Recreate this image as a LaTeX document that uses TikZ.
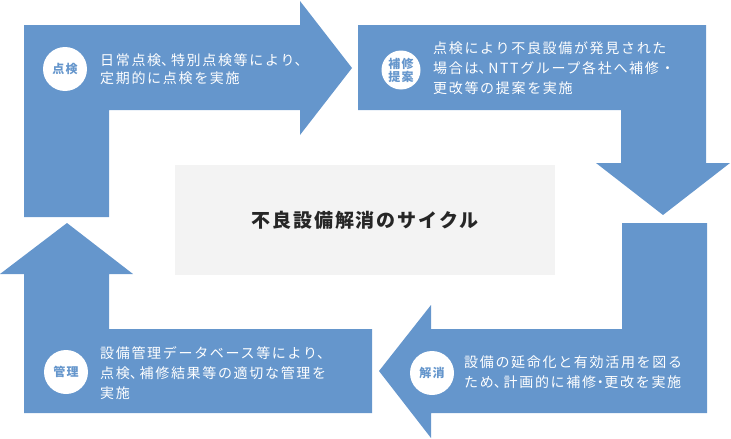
\documentclass[tikz,border=0pt]{standalone}
\usepackage{fontspec}
\usepackage{xcolor}
\newfontfamily\jp[LetterSpace=12]{Noto Sans CJK JP}
\newfontfamily\jptitle[LetterSpace=10]{Noto Sans CJK JP}
\definecolor{cycleblue}{RGB}{101,150,204}
\definecolor{boxgray}{RGB}{243,243,243}
\newcommand\tenmark{\makebox[0.7em][l]{、}}
\newcommand\dotmark{\makebox[0.6em][c]{・}}

\begin{document}
\begin{tikzpicture}[x=1pt, y=-1pt,
    band/.style = {fill=cycleblue, draw=none},
    badge/.style = {shape=circle, fill=white, minimum size=44pt,
      inner sep=0pt, align=center, text=cycleblue,
      font=\jp\bfseries\fontsize{12}{12}\selectfont},
    caption/.style = {anchor=west, align=left, text=white, inner sep=0pt,
      font=\jp\fontsize{14}{20}\selectfont}]
  \useasboundingbox (0,0) rectangle (731,439);

  % the four arrows of the cycle
  \fill[band] (24,217) -- (24,25) -- (300,25) -- (300,1) -- (352,68)
    -- (300,135) -- (300,110) -- (109,110) -- (109,217) -- cycle;
  \fill[band] (358,25) -- (706,25) -- (706,163) -- (730,163) -- (663,215)
    -- (596,163) -- (621,163) -- (621,110) -- (358,110) -- cycle;
  \fill[band] (707,223) -- (707,413) -- (431,413) -- (431,438) -- (379,371)
    -- (431,305) -- (431,329) -- (622,329) -- (622,223) -- cycle;
  \fill[band] (372,329) -- (372,413) -- (24,413) -- (24,274) -- (0,274)
    -- (67,223) -- (133,274) -- (109,274) -- (109,329) -- cycle;

  \node[fill=boxgray, minimum width=380pt, minimum height=110pt,
    font=\jptitle\bfseries\fontsize{19}{19}\selectfont, text={black!85}]
    (cycle) at (365,220) {不良設備解消のサイクル};

  \node[badge] (check) at (65,69) {点検};
  \node[caption, font=\jp\fontsize{14}{18}\selectfont] (checkTxt) at (100,69)
    {日常点検\tenmark 特別点検等により\tenmark\\定期的に点検を実施};

  \node[badge, minimum size=39pt, font=\jp\bfseries\fontsize{12}{13}\selectfont]
    (propose) at (401,70) {補修\\提案};
  \node[caption] (proposeTxt) at (433,68)
    {点検により不良設備が発見された\\場合は\tenmark NTTグループ各社へ補修・\\更改等の提案を実施};

  \node[badge] (solve) at (432,373) {解消};
  \node[caption] (solveTxt) at (464,372)
    {設備の延命化と有効活用を図る\\ため\tenmark 計画的に補修\dotmark 更改を実施};

  \node[badge] (manage) at (66,372) {管理};
  \node[caption] (manageTxt) at (100,373)
    {設備管理データベース等により\tenmark\\点検\tenmark 補修結果等の適切な管理を\\実施};
\end{tikzpicture}
\end{document}
